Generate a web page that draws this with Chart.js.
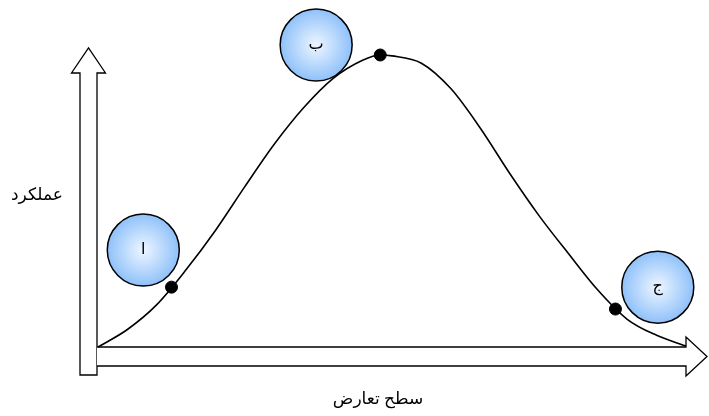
<!DOCTYPE html>
<html>
<head>
<meta charset="utf-8">
<script src="https://cdn.jsdelivr.net/npm/chart.js@4.4.1/dist/chart.umd.min.js"></script>
<style>
  body { margin: 0; background: #fff; }
</style>
</head>
<body>
<canvas id="conflictChart" width="709" height="416"></canvas>
<script>
// curve (conflict level -> performance)
const curveX = [0, 0.5, 1.0, 1.5, 2.0, 2.5, 3.0, 3.5, 4.0, 4.5, 4.8, 5.0, 5.5, 6.0, 6.5, 7.0, 7.5, 8.0, 8.5, 9.0, 9.5, 10];
const curveY = [0, 0.6, 1.45, 2.65, 4.0, 5.5, 6.95, 8.2, 9.2, 9.82, 10, 9.97, 9.72, 8.85, 7.5, 5.95, 4.5, 3.2, 1.95, 0.95, 0.4, 0.03];

// marked points on the curve
const keyX = [1.25, 4.8, 8.8];
const keyY = [2.05, 10, 1.3];

// labelled circles
const badgeLabels = ['ا', 'ب', 'ج'];
const badgeX = [0.77, 3.71, 9.52];
const badgeY = [3.32, 10.34, 2.05];

const xTitle = 'سطح تعارض';
const yTitle = 'عملکرد';

const toPoints = (xs, ys) => xs.map((x, i) => ({ x: x, y: ys[i] }));

const arabicFont = '"Times New Roman", "DejaVu Sans", serif';

// hollow arrows for the axes + axis titles
const arrowAxes = {
    id: 'arrowAxes',
    beforeDatasetsDraw(chart) {
        const c = chart.ctx;
        const x0 = chart.scales.x.getPixelForValue(0);
        const x1 = chart.scales.x.getPixelForValue(10);
        const y0 = chart.scales.y.getPixelForValue(0);
        const yTop = chart.scales.y.getPixelForValue(10);
        c.save();
        c.lineWidth = 1.3;
        c.strokeStyle = '#000';
        c.fillStyle = '#fff';
        c.lineJoin = 'miter';

        // vertical arrow
        const cx = x0 - 9.5, sw = 8.5, hw = 17;
        c.beginPath();
        c.moveTo(cx - sw, y0 + 28);
        c.lineTo(cx - sw, yTop + 18);
        c.lineTo(cx - hw, yTop + 18);
        c.lineTo(cx, yTop - 7);
        c.lineTo(cx + hw, yTop + 18);
        c.lineTo(cx + sw, yTop + 18);
        c.lineTo(cx + sw, y0 + 28);
        c.closePath();
        c.fill();
        c.stroke();

        // horizontal arrow
        const cy = y0 + 9.5, sh = 9.5, hh = 19.5;
        c.beginPath();
        c.moveTo(cx + sw, cy - sh);
        c.lineTo(x1, cy - sh);
        c.lineTo(x1, cy - hh);
        c.lineTo(x1 + 21, cy);
        c.lineTo(x1, cy + hh);
        c.lineTo(x1, cy + sh);
        c.lineTo(cx + sw, cy + sh);
        c.fill();
        c.stroke();

        // titles
        c.fillStyle = '#000';
        c.font = '17px ' + arabicFont;
        c.textAlign = 'center';
        c.textBaseline = 'middle';
        c.direction = 'rtl';
        c.fillText(yTitle, 37, 196);
        c.fillText(xTitle, (x0 + x1) / 2 - 14, y0 + 53);
        c.restore();
    }
};

// letters inside the circles
const badgeText = {
    id: 'badgeText',
    afterDatasetsDraw(chart) {
        const meta = chart.getDatasetMeta(2);
        const c = chart.ctx;
        c.save();
        c.fillStyle = '#000';
        c.font = '16px ' + arabicFont;
        c.textAlign = 'center';
        c.textBaseline = 'middle';
        c.direction = 'rtl';
        meta.data.forEach((pt, i) => {
            c.fillText(badgeLabels[i], pt.x, pt.y);
        });
        c.restore();
    }
};

function badgeFill(ctx) {
    const chart = ctx.chart;
    if (!chart.chartArea || !ctx.raw) return '#a9d0fb';
    const px = chart.scales.x.getPixelForValue(ctx.raw.x);
    const py = chart.scales.y.getPixelForValue(ctx.raw.y);
    const g = chart.ctx.createRadialGradient(px, py, 0, px, py, 36);
    g.addColorStop(0, '#eef6ff');
    g.addColorStop(1, '#8fc1fa');
    return g;
}

const ctx = document.getElementById('conflictChart').getContext('2d');
const chart = new Chart(ctx, {
    type: 'scatter',
    data: {
        datasets: [{
            type: 'line',
            data: toPoints(curveX, curveY),
            borderColor: '#000',
            borderWidth: 1.6,
            pointRadius: 0,
            fill: false,
            cubicInterpolationMode: 'monotone',
            clip: false
        }, {
            data: toPoints(keyX, keyY),
            pointRadius: 6,
            pointBackgroundColor: '#000',
            pointBorderColor: '#000',
            clip: false
        }, {
            data: toPoints(badgeX, badgeY),
            pointRadius: 36,
            pointBackgroundColor: badgeFill,
            pointBorderColor: '#000',
            pointBorderWidth: 1.5,
            clip: false
        }]
    },
    options: {
        responsive: false,
        animation: false,
        layout: { autoPadding: false, padding: { left: 98, right: 23, top: 55, bottom: 69 } },
        plugins: { legend: { display: false }, tooltip: { enabled: false } },
        scales: {
            x: { type: 'linear', min: 0, max: 10, display: false },
            y: { min: 0, max: 10, display: false }
        }
    },
    plugins: [arrowAxes, badgeText]
});
</script>
</body>
</html>
